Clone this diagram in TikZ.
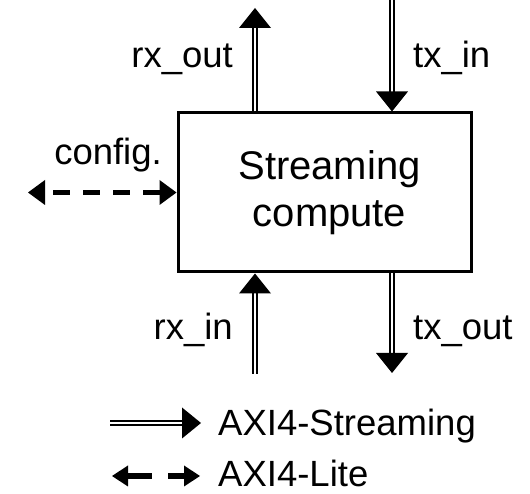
\documentclass[tikz,border=0pt]{standalone}
\usepackage{fontspec}
\setmainfont{Liberation Sans}
\usetikzlibrary{arrows.meta,calc}
\begin{document}
\begin{tikzpicture}[x=1pt,y=1pt,
  txt/.style={inner sep=0pt, font=\fontsize{36.5}{44}\selectfont},
  block/.style={draw, line width=3pt, minimum width=293pt, minimum height=159pt, inner sep=0pt},
  blocktext/.style={align=center, inner sep=0pt, font=\fontsize{40}{47}\selectfont},
  streamshaft/.style={draw, double, double distance=2pt, line width=2.3pt},
  streamhead/.style={line width=0.1pt, -{Triangle[width=32pt,length=20pt,line width=0pt]}},
  legendhead/.style={line width=0.1pt, -{Triangle[width=31pt,length=19pt,line width=0pt]}},
  lite/.style={line width=5.5pt, dash pattern=on 17pt off 13pt,
    {Triangle[width=25pt,length=17pt,line width=0pt]}-{Triangle[width=25pt,length=17pt,line width=0pt]}},
  litelegend/.style={line width=6pt, dash pattern=on 24pt off 16pt,
    {Triangle[width=21pt,length=16pt,line width=0pt]}-{Triangle[width=21pt,length=16pt,line width=0pt]}}
]
\useasboundingbox (0,0) rectangle (530,494);

% the compute block and its caption
\node[block] (core) at (324.5,301.5) {};
\node[blocktext] (corelbl) at ($(core.center)+(5,0)$) {Streaming\\compute};

% free ends of the ports
\coordinate (rxo) at (255,486);
\coordinate (txi) at (392,494);
\coordinate (rxi) at (255,120);
\coordinate (txo) at (392,121);
\coordinate (cfg) at (28,302);

% rx_out: leaves the block upwards
\draw[streamshaft, shorten >=19pt] (core.north -| rxo) -- (rxo);
\draw[streamhead] ($(rxo)!20pt!(core.north -| rxo)$) -- (rxo);

% tx_in: enters the block from above
\draw[streamshaft, shorten >=19pt] (txi) -- (core.north -| txi);
\draw[streamhead] ($(core.north -| txi)!20pt!(txi)$) -- (core.north -| txi);

% rx_in: enters the block from below
\draw[streamshaft, shorten >=19pt] (rxi) -- (core.south -| rxi);
\draw[streamhead] ($(core.south -| rxi)!20pt!(rxi)$) -- (core.south -| rxi);

% tx_out: leaves the block downwards
\draw[streamshaft, shorten >=19pt] (core.south -| txo) -- (txo);
\draw[streamhead] ($(txo)!20pt!(core.south -| txo)$) -- (txo);

% configuration port
\draw[lite] (core.west) -- (core.west -| cfg);

% port labels
\node[txt, anchor=base east] (lrxo) at (233,426) {rx\_out};
\node[txt, anchor=base west] (ltxi) at (413,426) {tx\_in};
\node[txt, anchor=base east] (lcfg) at (162,329) {config.};
\node[txt, anchor=base east] (lrxi) at (233,154) {rx\_in};
\node[txt, anchor=base west] (ltxo) at (413,154) {tx\_out};

% legend
\coordinate (sA) at (110,71);
\coordinate (sB) at (201,71);
\draw[streamshaft, shorten >=18pt] (sA) -- (sB);
\draw[legendhead] ($(sB)!19pt!(sA)$) -- (sB);
\node[txt, anchor=base west] (lstream) at (218,58) {AXI4-Streaming};

\coordinate (lA) at (112,18);
\coordinate (lB) at (200,18);
\draw[litelegend] (lA) -- (lB);
\node[txt, anchor=base west] (llite) at (218,7) {AXI4-Lite};
\end{tikzpicture}
\end{document}
